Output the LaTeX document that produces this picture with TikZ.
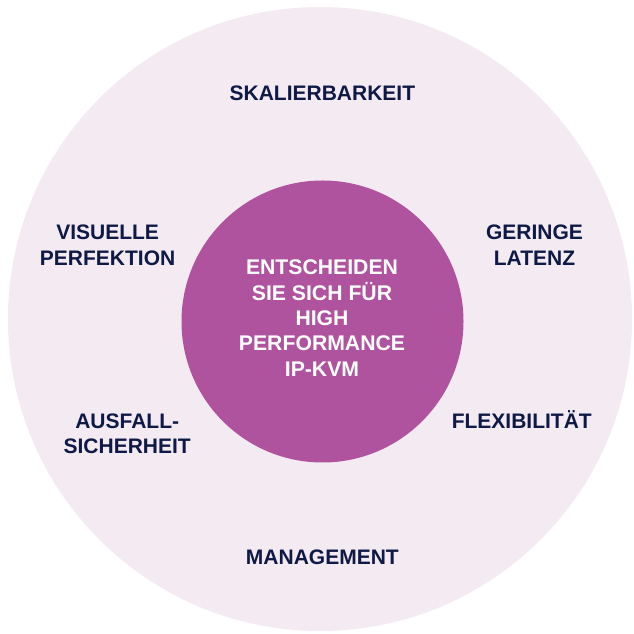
\documentclass[tikz,border=0pt]{standalone}
\usepackage{fontspec}
\setmainfont{Liberation Sans}
\definecolor{navy}{HTML}{0E1946}
\definecolor{outerpink}{HTML}{F4EAF2}
\definecolor{innerpurple}{HTML}{B0539F}
\tikzset{
  outerlabel/.style={text=navy, font=\bfseries\fontsize{21}{25.6}\selectfont, align=center, inner sep=0pt},
  centerlabel/.style={text=white, font=\bfseries\fontsize{21.2}{25.4}\selectfont, align=center, inner sep=0pt},
}
\begin{document}
\begin{tikzpicture}[x=1pt,y=1pt]
\useasboundingbox (0,0) rectangle (633,634);
\fill[white] (0,0) rectangle (633,634);
\node[circle, fill=outerpink, minimum size=624pt, inner sep=0pt] (outer) at (320,315) {};
\node[circle, fill=innerpurple, minimum size=282pt, inner sep=0pt] (inner) at (322.5,312.5) {};
\node[centerlabel] (ctext) at (322,315.8) {ENTSCHEIDEN\\SIE SICH FÜR\\HIGH\\PERFORMANCE\\IP-KVM};
\node[outerlabel] (skal) at (322.4,540.7) {SKALIERBARKEIT};
\node[outerlabel] (vis) at (107.6,389) {VISUELLE\\PERFEKTION};
\node[outerlabel] (ger) at (534.5,389) {GERINGE\\LATENZ};
\node[outerlabel] (aus) at (127.2,200.3) {AUSFALL-\\SICHERHEIT};
\node[outerlabel, anchor=base] (flex) at (521.8,205.5) {FLEXIBILITÄT};
\node[outerlabel] (man) at (322.4,77) {MANAGEMENT};
\end{tikzpicture}
\end{document}
